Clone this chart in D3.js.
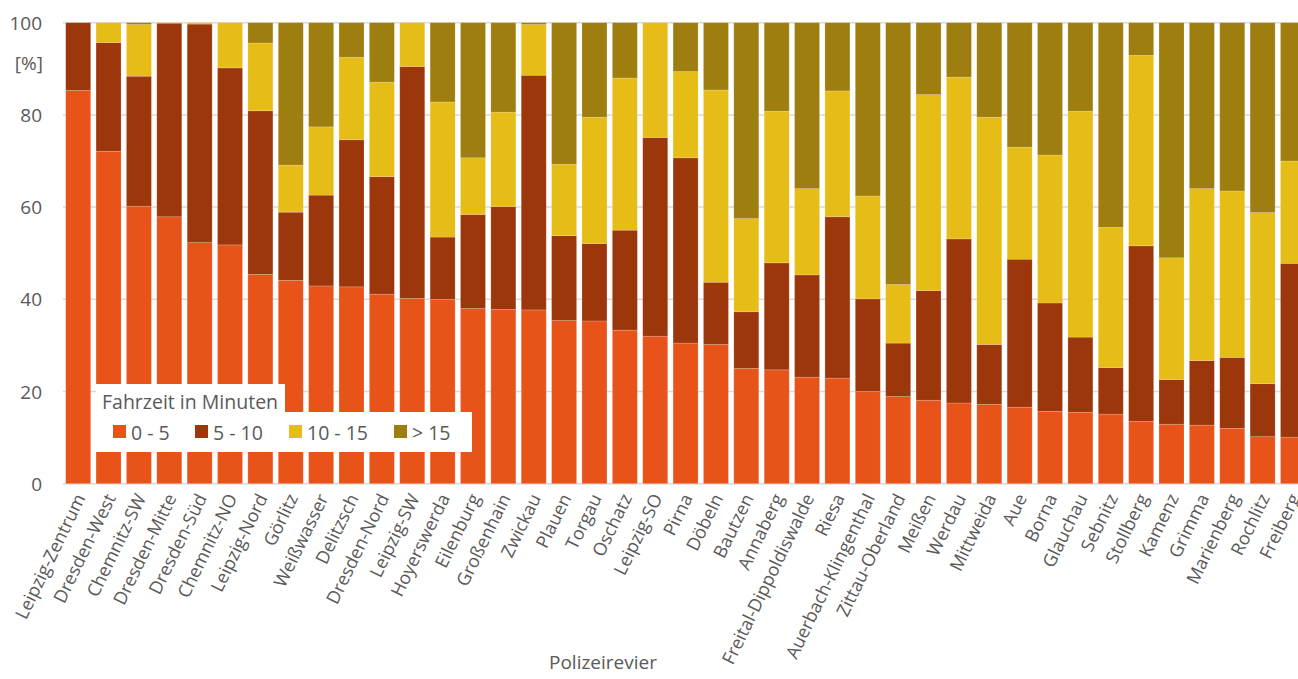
<!DOCTYPE html>
<html>
<head>
<meta charset="utf-8">
<script src="https://cdn.jsdelivr.net/npm/d3@7"></script>
<style>
  html, body { margin: 0; padding: 0; background: #fff; }
  svg { display: block; font-family: "Open Sans", sans-serif; }
</style>
</head>
<body>
<svg id="chart" width="1298" height="679"></svg>
<script>
const categories = ["Leipzig-Zentrum","Dresden-West","Chemnitz-SW","Dresden-Mitte","Dresden-Süd","Chemnitz-NO","Leipzig-Nord","Görlitz","Weißwasser","Delitzsch","Dresden-Nord","Leipzig-SW","Hoyerswerda","Eilenburg","Großenhain","Zwickau","Plauen","Torgau","Oschatz","Leipzig-SO","Pirna","Döbeln","Bautzen","Annaberg","Freital-Dippoldiswalde","Riesa","Auerbach-Klingenthal","Zittau-Oberland","Meißen","Werdau","Mittweida","Aue","Borna","Glauchau","Sebnitz","Stollberg","Kamenz","Grimma","Marienberg","Rochlitz","Freiberg"];
const seriesNames = ["0 - 5", "5 - 10", "10 - 15", "> 15"];
const v0_5   = [85.3,72.1,60.2,57.9,52.3,51.8,45.4,44.1,42.9,42.7,41.1,40.2,40.0,38.0,37.8,37.7,35.4,35.3,33.3,32.0,30.5,30.2,25.0,24.7,23.1,22.9,20.0,18.9,18.1,17.5,17.2,16.6,15.7,15.5,15.1,13.5,12.9,12.7,12.0,10.2,10.1];
const v5_10  = [14.7,23.6,28.2,42.0,47.4,38.4,35.5,14.8,19.7,31.9,25.5,50.3,13.5,20.4,22.3,50.9,18.4,16.8,21.7,43.1,40.2,13.5,12.3,23.2,22.2,35.0,20.1,11.6,23.8,35.6,13.0,32.1,23.5,16.3,10.1,38.1,9.7,14.0,15.4,11.5,37.7];
const v10_15 = [0,4.3,11.2,0.1,0.3,9.8,14.7,10.2,14.8,17.9,20.5,9.5,29.3,12.3,20.5,11.0,15.5,27.4,33.0,24.9,18.7,41.7,20.2,32.9,18.7,27.3,22.3,12.7,42.5,35.1,49.3,24.3,32.1,49.0,30.4,41.3,26.4,37.3,36.1,37.1,22.2];
const v15    = [0,0,0.4,0,0,0,4.4,30.9,22.6,7.5,12.9,0,17.2,29.3,19.4,0.4,30.7,20.5,12.0,0,10.6,14.6,42.5,19.2,36.0,14.8,37.6,56.8,15.6,11.8,20.5,27.0,28.7,19.2,44.4,7.1,51.0,36.0,36.5,41.2,30.0];
const yTicks = [0, 20, 40, 60, 80, 100];
const colors = ["#E8531A", "#9C360B", "#E6BC17", "#9D7E0E"];

const rows = categories.map((c, i) => ({
  cat: c, "0 - 5": v0_5[i], "5 - 10": v5_10[i], "10 - 15": v10_15[i], "> 15": v15[i]
}));

const svg = d3.select("#chart");
const textColor = "#595959";

const x = d3.scaleBand()
  .domain(categories)
  .range([63, 63 + 41 * 30.37])
  .paddingInner(0.177)
  .paddingOuter(0.0885);
const y = d3.scaleLinear().domain([0, 100]).range([483.7, 22.7]);
const color = d3.scaleOrdinal().domain(seriesNames).range(colors);

// gridlines
svg.append("g").selectAll("line").data(yTicks).join("line")
  .attr("x1", 63).attr("x2", 1298)
  .attr("y1", d => y(d)).attr("y2", d => y(d))
  .attr("stroke", "#d9d9d9").attr("stroke-width", 1.5);

// y tick labels
svg.append("g").selectAll("text").data(yTicks).join("text")
  .attr("x", 42).attr("y", d => y(d))
  .attr("text-anchor", "end").attr("dominant-baseline", "central")
  .attr("font-size", 19).attr("fill", textColor)
  .text(d => d);
svg.append("text").attr("x", 43).attr("y", 63)
  .attr("text-anchor", "end").attr("dominant-baseline", "central")
  .attr("font-size", 19).attr("fill", textColor).text("[%]");

// stacked bars
const stacked = d3.stack().keys(seriesNames)(rows);
svg.append("g").selectAll("g").data(stacked).join("g")
  .attr("fill", d => color(d.key))
  .selectAll("rect").data(d => d).join("rect")
  .attr("x", d => x(d.data.cat))
  .attr("width", x.bandwidth())
  .attr("y", d => y(d[1]))
  .attr("height", d => Math.max(0, y(d[0]) - y(d[1])))
  .attr("stroke", "rgba(255,255,255,0.22)")
  .attr("stroke-width", 0.8);

// x labels
svg.append("g").selectAll("text").data(categories).join("text")
  .attr("transform", d => `translate(${x(d) + x.bandwidth() / 2 + 2},495) rotate(-64)`)
  .attr("text-anchor", "end").attr("dy", "0.35em")
  .attr("font-size", 18).attr("fill", textColor)
  .text(d => d);

// axis title
svg.append("text").attr("x", 603).attr("y", 662)
  .attr("text-anchor", "middle").attr("dominant-baseline", "central")
  .attr("font-size", 19).attr("fill", textColor).text("Polizeirevier");

// legend
const lg = svg.append("g");
lg.append("rect").attr("x", 96).attr("y", 384).attr("width", 189).attr("height", 30).attr("fill", "#fff");
lg.append("rect").attr("x", 96).attr("y", 412).attr("width", 376).attr("height", 40).attr("fill", "#fff");
lg.append("text").attr("x", 102).attr("y", 401)
  .attr("dominant-baseline", "central").attr("font-size", 19.5).attr("fill", textColor)
  .text("Fahrzeit in Minuten");
const legendX = [113, 195, 289, 394];
const items = lg.selectAll("g.item").data(seriesNames).join("g").attr("class", "item")
  .attr("transform", (d, i) => `translate(${legendX[i]},425)`);
items.append("rect").attr("width", 13).attr("height", 13).attr("fill", d => color(d));
items.append("text").attr("x", 18).attr("y", 7)
  .attr("dominant-baseline", "central").attr("font-size", 19.5).attr("fill", textColor)
  .text(d => d);
</script>
</body>
</html>
